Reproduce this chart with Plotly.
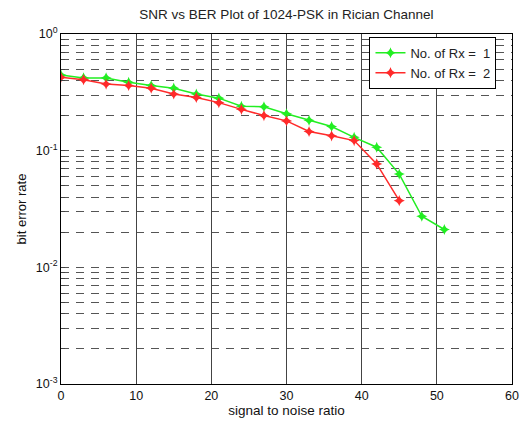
import plotly.graph_objects as go

snr_rx1 = [0, 3, 6, 9, 12, 15, 18, 21, 24, 27, 30, 33, 36, 39, 42, 45, 48, 51]
ber_rx1 = [0.445, 0.42, 0.42, 0.385, 0.362, 0.343, 0.306, 0.282, 0.24, 0.238,
           0.207, 0.182, 0.161, 0.13, 0.107, 0.063, 0.0274, 0.0211]
snr_rx2 = [0, 3, 6, 9, 12, 15, 18, 21, 24, 27, 30, 33, 36, 39, 42, 45]
ber_rx2 = [0.426, 0.406, 0.372, 0.362, 0.343, 0.306, 0.286, 0.258, 0.226, 0.2,
           0.18, 0.146, 0.134, 0.122, 0.077, 0.0373]

x_ticks = [0, 10, 20, 30, 40, 50, 60]
decades = [-3, -2, -1, 0]
y_major = [10.0 ** d for d in decades]
y_major_text = [f"10<sup>{d}</sup>" for d in decades]
y_minor = [m * 10.0 ** d for d in decades[:-1] for m in range(2, 10)]

font_family = "Liberation Sans, Arial, sans-serif"

fig = go.Figure()
fig.add_trace(go.Scatter(
    x=snr_rx1, y=ber_rx1, mode="lines+markers", name="No. of Rx =  1",
    line=dict(color="#22ee22", width=1.5),
    marker=dict(symbol="star-diamond", size=8, color="#22ee22"),
))
fig.add_trace(go.Scatter(
    x=snr_rx2, y=ber_rx2, mode="lines+markers", name="No. of Rx =  2",
    line=dict(color="#ff2a2a", width=1.5),
    marker=dict(symbol="star-diamond", size=8, color="#ff2a2a"),
))

fig.update_layout(
    width=528, height=421,
    margin=dict(l=61, r=16, t=34, b=37),
    paper_bgcolor="white", plot_bgcolor="white",
    font=dict(family=font_family, size=13, color="#111"),
    title=dict(text="SNR vs BER Plot of 1024-PSK in Rician Channel",
               x=0.5425, xanchor="center", y=1 - 14 / 421, yanchor="middle",
               yref="container", font=dict(size=13.5, color="#222")),
    legend=dict(x=0.684, y=0.992, xanchor="left", yanchor="top",
                bgcolor="white", bordercolor="black", borderwidth=1,
                font=dict(size=13, color="#222"), tracegroupgap=0),
    showlegend=True,
)
fig.update_xaxes(
    range=[0, 60], tickvals=x_ticks, ticks="inside", ticklen=4,
    showgrid=True, gridcolor="#444", gridwidth=1,
    showline=True, linecolor="black", linewidth=1, mirror=True,
    zeroline=False, automargin=False,
    title=dict(text="signal to noise ratio", font=dict(size=13.5), standoff=2),
    tickfont=dict(size=12.5),
)
fig.update_yaxes(
    type="log", range=[-3, 0], tickvals=y_major, ticktext=y_major_text,
    ticks="inside", ticklen=4, tickcolor="#444",
    showgrid=True, gridcolor="#555", gridwidth=1, griddash="8px,7px",
    minor=dict(tickvals=y_minor, ticks="inside", ticklen=4, tickcolor="#444",
               showgrid=True, gridcolor="#555", gridwidth=1, griddash="8px,7px"),
    showline=True, linecolor="black", linewidth=1, mirror=True,
    zeroline=False, automargin=False,
    title=dict(text="bit error rate", font=dict(size=13), standoff=6),
    tickfont=dict(size=12.5),
)

fig.write_html("out.html")
